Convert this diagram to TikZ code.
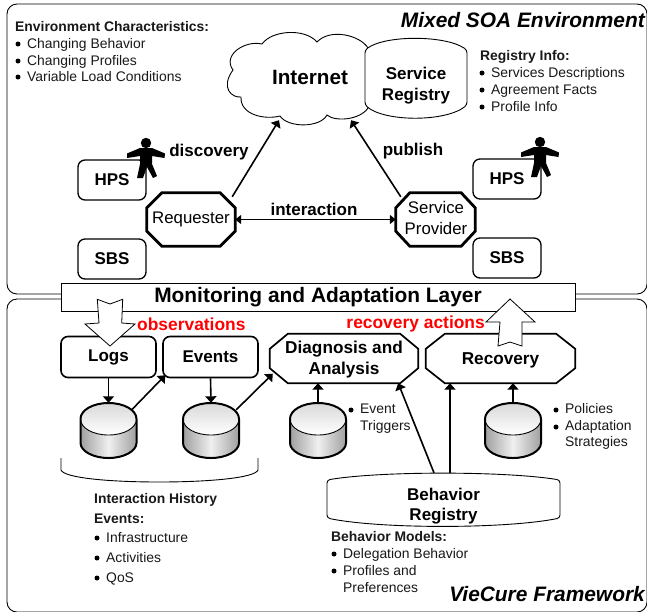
\documentclass[tikz,border=0pt]{standalone}
\usepackage{fontspec}
\setmainfont{Liberation Sans}
\usetikzlibrary{arrows.meta,calc}
\definecolor{txt}{gray}{0.1}
\tikzset{x=1pt,y=-1pt,
  panel/.style={draw=black,line width=0.9pt,rounded corners=10pt,fill=white},
  rbox/.style={draw=black,line width=1.3pt,rounded corners=7pt,fill=white,font=\fontsize{17}{18}\selectfont\bfseries,inner sep=0pt},
  lbox/.style={rbox,line width=1.6pt},
  octtxt/.style={inner sep=0pt,align=center,font=\fontsize{16.8}{21}\selectfont},
  bigtxt/.style={inner sep=0pt,align=center,font=\fontsize{17.2}{21}\selectfont\bfseries},
  ghost/.style={inner sep=0pt,draw=none,align=center},
  arr/.style={line width=1.6pt,-{Triangle[length=6.5pt,width=11pt]}},
  darr/.style={line width=1.5pt,{Triangle[length=6pt,width=9pt]}-{Triangle[length=6pt,width=9pt]}},
  lbl/.style={inner sep=0pt,font=\fontsize{17}{18}\selectfont\bfseries},
  red lbl/.style={inner sep=0pt,text=red,font=\fontsize{17.4}{18}\selectfont\bfseries},
  title/.style={inner sep=0pt,anchor=east,font=\fontsize{20.9}{22}\selectfont\bfseries\itshape},
  head/.style={inner sep=0pt,anchor=base west,yshift=-4.8pt,text=txt,font=\fontsize{13.9}{14}\selectfont\bfseries},
  item/.style={inner sep=0pt,anchor=base west,yshift=-4.8pt,text=txt,font=\fontsize{13.9}{14}\selectfont},
  dotm/.style={fill=black,draw=none,circle,minimum size=5pt,inner sep=0pt},
  bigarr/.style={draw=black,line width=0.8pt,fill=white},
}
% #1 node name, #2 chamfer x, #3 chamfer y, #4 line width
\newcommand{\octpath}[4]{%
  \draw[line width=#4,line join=miter]
    ([xshift=#2]#1.north west) -- ([xshift=-#2]#1.north east) -- ([yshift=-#3]#1.north east)
    -- ([yshift=#3]#1.south east) -- ([xshift=-#2]#1.south east) -- ([xshift=#2]#1.south west)
    -- ([yshift=#3]#1.south west) -- ([yshift=-#3]#1.north west) -- cycle;}
\newcommand{\dbcyl}[2]{%
  \shade[left color=gray!75,right color=gray!75,middle color=gray!12]
    (#2-28,419) -- (#2-28,443) .. controls (#2-28,451) and (#2-15.5,458) .. (#2,458)
    .. controls (#2+15.5,458) and (#2+28,451) .. (#2+28,443) -- (#2+28,419) -- cycle;
  \shade[top color=gray!30,bottom color=white] (#2-28,419)
    .. controls (#2-28,410) and (#2-15.5,403) .. (#2,403)
    .. controls (#2+15.5,403) and (#2+28,410) .. (#2+28,419)
    .. controls (#2+28,428) and (#2+15.5,435) .. (#2,435)
    .. controls (#2-15.5,435) and (#2-28,428) .. (#2-28,419) -- cycle;
  \draw[line width=2pt] (#2-28,419) -- (#2-28,443) .. controls (#2-28,451) and (#2-15.5,458) .. (#2,458)
    .. controls (#2+15.5,458) and (#2+28,451) .. (#2+28,443) -- (#2+28,419)
    .. controls (#2+28,410) and (#2+15.5,403) .. (#2,403)
    .. controls (#2-15.5,403) and (#2-28,410) .. (#2-28,419) -- cycle;
  \draw[line width=0.9pt] (#2-28,419) .. controls (#2-28,428) and (#2-15.5,435) .. (#2,435)
    .. controls (#2+15.5,435) and (#2+28,428) .. (#2+28,419);
  \node[ghost,minimum width=56pt,minimum height=55pt] (#1) at (#2,430.5) {};
}
\newcommand{\person}[2]{%
  \begin{scope}[shift={(#1,#2)}]
    \fill (0,0) circle[radius=5.2];
    \fill (-6,5) -- (6,5) -- (19,10.5) -- (18.5,15) -- (6,13) -- (6,21) -- (11,33) -- (7,35) -- (1,24) -- (-3,35) -- (-9,35) -- (-6,21) -- (-6,13) -- (-19,15) -- (-19,10.5) -- cycle;
  \end{scope}}
\begin{document}
\begin{tikzpicture}
\useasboundingbox (0,0) rectangle (647,611);
\fill[white] (0,0) rectangle (647,611);
% panels
\draw[panel] (7,4) rectangle (647,294);
\draw[panel] (7,299) rectangle (647,612);
% bar
\node[draw=black,line width=0.9pt,fill=white,minimum width=514pt,minimum height=28pt,inner sep=0pt,font=\fontsize{20.9}{22}\selectfont\bfseries] (bar) at (318,297) {Monitoring and Adaptation Layer};
% titles
\node[title] (tmix) at (645,20) {Mixed SOA Environment};
\node[title] (tvie) at (645,594) {VieCure Framework};
% cloud
\draw[line width=0.9pt,fill=white] (233,70)
  .. controls (222,55) and (245,40) .. (262,44)
  .. controls (272,30) and (305,28) .. (317,42)
  .. controls (330,28) and (360,35) .. (368,48)
  -- (368,108)
  .. controls (360,120) and (335,122) .. (327,115)
  .. controls (320,128) and (288,128) .. (280,116)
  .. controls (265,120) and (240,115) .. (241,97)
  .. controls (232,98) and (220,88) .. (233,70) -- cycle;
\node[ghost,minimum width=130pt,minimum height=90pt] (inet) at (300,78) {};
\node[lbl,font=\fontsize{20.7}{22}\selectfont\bfseries] (inettxt) at (310,77) {Internet};
% service registry
\draw[line width=0.9pt,fill=white,rounded corners=3pt] (365,50) .. controls (385,35) and (445,35) .. (467,50) -- (467,105) .. controls (445,122) and (385,122) .. (365,105) -- cycle;
\node[ghost,text width=100pt,font=\fontsize{17}{21}\selectfont\bfseries] (sreg) at (416,86) {Service\\Registry};
% behavior registry
\draw[line width=0.9pt,fill=white,rounded corners=3pt] (327,480) .. controls (380,471) and (505,471) .. (560,480) -- (560,518) .. controls (505,529) and (380,529) .. (327,518) -- cycle;
\node[ghost,minimum width=233pt,minimum height=54pt] (breg) at (443.5,500) {};
\node[ghost,font=\fontsize{17}{20}\selectfont\bfseries] (bregtxt) at (443.5,506.5) {Behavior\\Registry};
% top boxes
\node[rbox,minimum width=68pt,minimum height=40pt] (hpsl) at (112,180) {HPS};
\node[rbox,minimum width=68pt,minimum height=40pt] (sbsl) at (112,259) {SBS};
\node[rbox,minimum width=68pt,minimum height=40pt] (hpsr) at (507,179) {HPS};
\node[rbox,minimum width=68pt,minimum height=40pt] (sbsr) at (507,258) {SBS};
\person{146}{143}
\person{540}{142}
\node[octtxt,minimum width=88pt,minimum height=53pt] (req) at (191,219.5) {Requester};
\octpath{req}{15pt}{15pt}{2.8pt}
\node[ghost,minimum width=79pt,minimum height=53pt] (prov) at (435.5,219.5) {};
\node[octtxt] (provtxt) at (436,218) {Service\\Provider};
\octpath{prov}{14pt}{15pt}{2.8pt}
% top connectors
\draw[arr] ([xshift=-3pt,yshift=-4pt]req.north east) -- ([xshift=-21pt,yshift=3pt]inet.south);
\draw[arr] ([xshift=5pt,yshift=-4pt]prov.north west) -- ([xshift=51pt,yshift=3pt]inet.south);
\draw[darr] (req.east) -- (prov.west);
\node[lbl] (ldisc) at (209,152) {discovery};
\node[lbl] (lpub) at (413,151) {publish};
\node[lbl] (lint) at (314,209) {interaction};
% lists top
\node[head] (envh) at (15,27) {Environment Characteristics:};
\foreach \t/\y in {Changing Behavior/44,Changing Profiles/61,Variable Load Conditions/77}{
  \node[dotm] at (18,\y) {}; \node[item] at (27,\y) {\t};}
\node[head] (regh) at (480,56) {Registry Info:};
\foreach \t/\y in {Services Descriptions/73,Agreement Facts/90,Profile Info/107}{
  \node[dotm] at (482,\y) {}; \node[item] at (491,\y) {\t};}
% lower boxes
\node[lbox,minimum width=95pt,minimum height=41pt] (logs) at (108.5,357) {Logs};
\node[lbox,minimum width=95pt,minimum height=41pt] (evts) at (210.5,357) {Events};
\node[ghost,minimum width=148pt,minimum height=49pt] (diag) at (344,358.5) {};
\node[bigtxt] (diagtxt) at (344,360) {Diagnosis and\\Analysis};
\octpath{diag}{18pt}{15pt}{1.7pt}
\node[ghost,minimum width=149pt,minimum height=49pt] (reco) at (500.5,358.5) {};
\node[bigtxt] (recotxt) at (500.5,360) {Recovery};
\octpath{reco}{19pt}{15pt}{1.7pt}
\dbcyl{c1}{108.5}
\dbcyl{c2}{211}
\dbcyl{c3}{318}
\dbcyl{c4}{513}
% big arrows
\draw[bigarr] (97.3,299.3) -- (110,304) -- (122.7,299.3) -- (121.7,323) -- (135,324) -- (110,346) -- (85,324) -- (99,323) -- cycle;
\draw[bigarr] (510,299) -- (535,322) -- (522,322) -- (522,346) -- (510,342) -- (498,346) -- (500,322) -- (486,322) -- cycle;
\node[red lbl,anchor=west] (lobs) at (137,324) {observations};
\node[red lbl,anchor=east] (lrec) at (485,324) {recovery actions};
% lower connectors
\draw[arr] (logs.south) -- (c1.north);
\draw[arr] ([yshift=-7pt,xshift=-5pt]c1.north east) -- ([xshift=3pt,yshift=3pt]evts.south west);
\draw[arr] (evts.south) -- (c2.north);
\draw[arr] ([yshift=-7pt,xshift=-3pt]c2.north east) -- ([xshift=3pt,yshift=9.5pt]diag.south west);
\draw[arr] (c3.north) -- (diag.south -| c3.north);
\draw[arr] (c4.north) -- (reco.south -| c4.north);
\draw[arr] ([xshift=-9.5pt]breg.north) -- ([xshift=-20pt]diag.south east);
\draw[arr] ([xshift=6.5pt]breg.north) -- ([xshift=6.5pt]breg.north |- reco.south);
% brace
\draw[line width=0.9pt] (61,458) -- (61,470) .. controls (64,478) and (110,482) .. (159,482) .. controls (208,482) and (255,478) .. (258,470) -- (258,458);
% lower lists
\node[head] (ih) at (94,499) {Interaction History};
\node[head] (ie) at (94,519) {Events:};
\foreach \t/\y in {Infrastructure/538,Activities/558,QoS/578}{
  \node[dotm] at (97,\y) {}; \node[item] at (106,\y) {\t};}
\node[dotm] at (351,410) {};
\node[item] at (360,409) {Event};
\node[item] at (360,426) {Triggers};
\node[dotm] at (556,410) {};
\node[item] at (565,409) {Policies};
\node[dotm] at (556,427) {};
\node[item] at (565,426) {Adaptation};
\node[item] at (565,442) {Strategies};
\node[head] (bm) at (331,537) {Behavior Models:};
\node[dotm] at (334,554) {};
\node[item] at (343,554) {Delegation Behavior};
\node[dotm] at (334,571) {};
\node[item] at (343,571) {Profiles and};
\node[item] at (343,588) {Preferences};
\end{tikzpicture}
\end{document}
